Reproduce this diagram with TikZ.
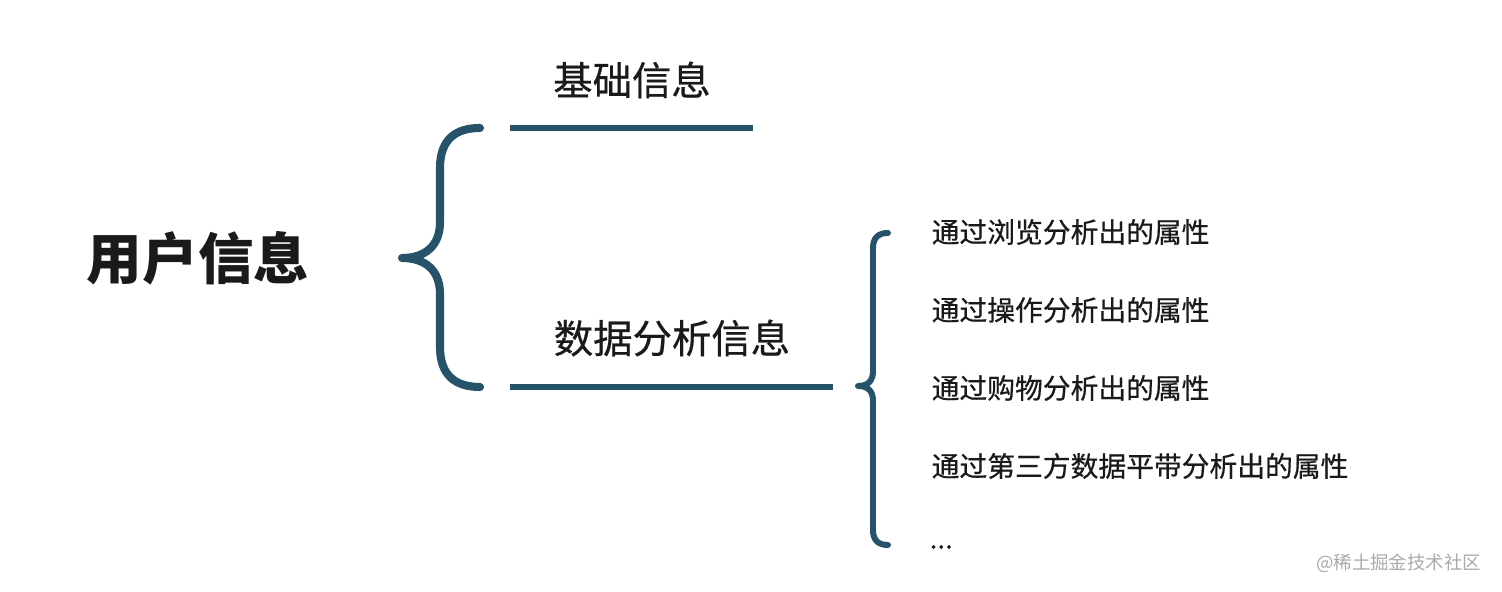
\documentclass[tikz,border=0pt]{standalone}
\usepackage{fontspec}
\newfontfamily\cjk{Noto Sans CJK SC}
\newfontfamily\cjkmid[FakeBold=0.6]{Noto Sans CJK SC}
\usepackage{tikz}
\usetikzlibrary{positioning,calc}
\definecolor{bracecol}{RGB}{38,82,106}
\definecolor{inkgray}{RGB}{26,26,26}
\definecolor{markgray}{RGB}{170,170,170}

\begin{document}
\begin{tikzpicture}[x=0.01cm, y=-0.01cm,
  title/.style={font=\cjkmid\fontsize{11.2pt}{13pt}\selectfont, text=inkgray, inner sep=0pt},
  item/.style={font=\cjkmid\fontsize{7.9pt}{9pt}\selectfont, text=inkgray, inner sep=0pt, anchor=west},
  bracebig/.style={draw=bracecol, line width=2.3pt, line cap=round, line join=round},
  bracesmall/.style={draw=bracecol, line width=1.7pt, line cap=round, line join=round}]
\useasboundingbox (0,0) rectangle (1502,592);
% root
\node[font=\cjk\bfseries\fontsize{15.8pt}{18pt}\selectfont, text=inkgray, inner sep=0pt] (root) at (198,258) {用户信息};
% big brace
\draw[bracebig] (480,128) .. controls (455,128) and (440,140) .. (440,168) -- (440,222)
  .. controls (440,246) and (425,258) .. (402,258)
  .. controls (425,258) and (440,270) .. (440,294) -- (440,347)
  .. controls (440,375) and (455,387) .. (480,387);
% branches
\node[title] (basic) at (632,80) {基础信息};
\draw[draw=bracecol, line width=1.5pt] (510,128) -- (753,128);
\node[title] (analysis) at (672,338) {数据分析信息};
\draw[draw=bracecol, line width=1.5pt] (510,387) -- (833,387);
% small brace
\draw[bracesmall] (888,233) .. controls (878,233) and (873,238) .. (873,248) -- (873,371)
  .. controls (873,381) and (868,386) .. (858,386)
  .. controls (868,386) and (873,391) .. (873,401) -- (873,530)
  .. controls (873,540) and (878,545) .. (888,545);
% attributes
\node[item] (attrA) at (931,232) {通过浏览分析出的属性};
\node[item] (attrB) at (931,310) {通过操作分析出的属性};
\node[item] (attrC) at (931,388) {通过购物分析出的属性};
\node[item] (attrD) at (931,466) {通过第三方数据平带分析出的属性};
\node[item] (attrE) at (929,547) {...};
% watermark
\node[font=\cjk\fontsize{5.25pt}{7pt}\selectfont, text=markgray, inner sep=0pt, anchor=east] (mark) at (1482,563) {@稀土掘金技术社区};
\end{tikzpicture}
\end{document}
